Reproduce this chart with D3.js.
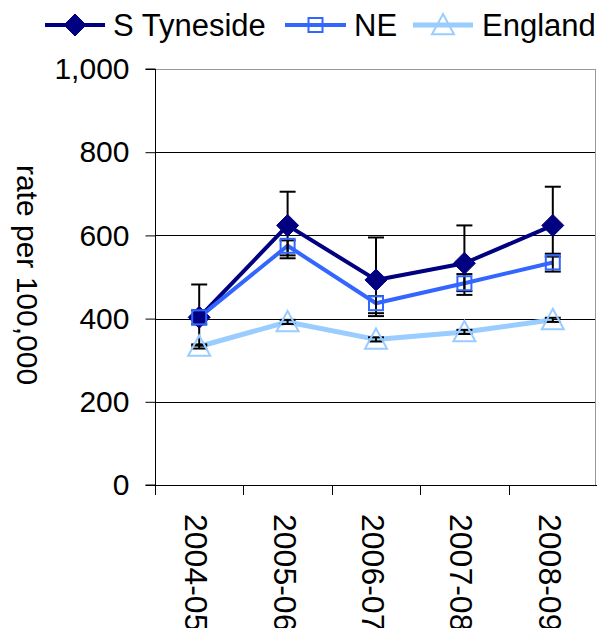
<!DOCTYPE html>
<html>
<head>
<meta charset="utf-8">
<script src="https://cdn.jsdelivr.net/npm/d3@7"></script>
<style>
  html, body { margin: 0; padding: 0; background: #fff; }
  svg { display: block; }
  text { font-family: "Liberation Sans", Arial, sans-serif; fill: #000; }
</style>
</head>
<body>
<svg id="chart" width="597" height="628"></svg>
<script>
// ---- data ----
const categories = ["2004-05", "2005-06", "2006-07", "2007-08", "2008-09"];
const seriesNames = ["S Tyneside", "NE", "England"];
const sTynesideValues = [403, 624, 493, 533, 624];
const sTynesideLower  = [335, 545, 406, 457, 556];
const sTynesideUpper  = [482, 705, 595, 624, 717];
const neValues = [403, 575, 437, 485, 535];
const neLower  = [386, 552, 413, 466, 513];
const neUpper  = [420, 588, 454, 507, 549];
const englandValues = [333, 392, 350, 368, 397];
const englandLower  = [328, 387, 345, 363, 392];
const englandUpper  = [338, 397, 355, 373, 402];
const yTicks = [0, 200, 400, 600, 800, 1000];
const yTitle = "rate per 100,000";

const series = [
  { name: seriesNames[0], values: sTynesideValues, lower: sTynesideLower, upper: sTynesideUpper, color: "#000080", marker: "diamond", width: 4 },
  { name: seriesNames[1], values: neValues, lower: neLower, upper: neUpper, color: "#3366FF", marker: "square", width: 4 },
  { name: seriesNames[2], values: englandValues, lower: englandLower, upper: englandUpper, color: "#99CCFF", marker: "triangle", width: 5 }
];

// ---- layout ----
const svg = d3.select("#chart");
const pLeft = 155, pRight = 597, pTop = 69, pBottom = 485;
const x = d3.scaleBand().domain(categories).range([pLeft, pRight]).padding(0);
const cx = c => x(c) + x.bandwidth() / 2;
const y = d3.scaleLinear().domain([0, 1000]).range([pBottom, pTop]);
const fmt = d3.format(",");

// gridlines
svg.append("g").selectAll("line").data(yTicks.filter(t => t > 0)).join("line")
  .attr("x1", pLeft).attr("x2", 596)
  .attr("y1", d => Math.round(y(d)) + 0.5).attr("y2", d => Math.round(y(d)) + 0.5)
  .attr("stroke", d => d === 1000 ? "#999" : "#000").attr("stroke-width", 1);
// right border
svg.append("line").attr("x1", 595.5).attr("x2", 595.5).attr("y1", y(1000)).attr("y2", pBottom)
  .attr("stroke", "#999").attr("stroke-width", 1);

// y axis
const yAxis = d3.axisLeft(y).tickValues(yTicks).tickSize(10).tickPadding(16).tickFormat(fmt);
const gy = svg.append("g").attr("transform", `translate(${pLeft + 0.5},0)`).call(yAxis);
gy.select(".domain").attr("stroke", "#000").attr("d", `M-10,${y(1000)}H0V${pBottom}H-10`);
gy.selectAll(".tick line").attr("stroke", "#000");
gy.selectAll(".tick text").attr("font-size", 30).attr("font-family", "Liberation Sans, Arial, sans-serif").attr("fill", "#000");

// x axis
const xAxis = d3.axisBottom(x).tickSize(0).tickFormat("");
const gx = svg.append("g").attr("transform", `translate(0,${pBottom + 0.5})`).call(xAxis);
gx.select(".domain").attr("stroke", "#000").attr("d", `M${pLeft},0H${pRight}`);
gx.selectAll(".tick").remove();
// boundary ticks
const bounds = categories.map(c => x(c)).concat([pRight - 0.5]);
svg.append("g").selectAll("line").data(bounds).join("line")
  .attr("x1", d => Math.round(d) + 0.5).attr("x2", d => Math.round(d) + 0.5)
  .attr("y1", pBottom).attr("y2", pBottom + 10).attr("stroke", "#000");
// x labels
svg.append("g").selectAll("text").data(categories).join("text")
  .attr("transform", d => `translate(${cx(d) - 3},514) rotate(90)`)
  .attr("text-anchor", "start").attr("dominant-baseline", "central")
  .attr("font-size", 32).text(d => d);

// y title
svg.append("text").attr("transform", "translate(27,275) rotate(90)")
  .attr("text-anchor", "middle").attr("dominant-baseline", "central")
  .attr("font-size", 30).text(yTitle);

// markers
function drawMarker(g, type, color, px, py, scale) {
  const s = scale || 1;
  if (type === "diamond") {
    const r = 11 * s;
    g.append("path").attr("d", `M${px},${py - r}L${px + r},${py}L${px},${py + r}L${px - r},${py}Z`)
      .attr("fill", color).attr("stroke", color).attr("stroke-width", 1);
  } else if (type === "square") {
    const r = 7 * s;
    g.append("rect").attr("x", px - r).attr("y", py - r).attr("width", 2 * r).attr("height", 2 * r)
      .attr("fill", "none").attr("stroke", color).attr("stroke-width", 2);
  } else {
    const r = 11 * s;
    g.append("path").attr("d", `M${px},${py - r}L${px + r},${py + r * 0.85}L${px - r},${py + r * 0.85}Z`)
      .attr("fill", "none").attr("stroke", color).attr("stroke-width", 2);
  }
}

const line = d3.line().x(d => cx(d.c)).y(d => y(d.v));
series.forEach(s => {
  const pts = categories.map((c, i) => ({ c, v: s.values[i] }));
  svg.append("path").datum(pts).attr("d", line)
    .attr("fill", "none").attr("stroke", s.color).attr("stroke-width", s.width).attr("stroke-linejoin", "round");
});

// error bars
series.forEach(s => {
  const g = svg.append("g").attr("stroke", "#000").attr("stroke-width", 2);
  categories.forEach((c, i) => {
    const px = cx(c);
    g.append("line").attr("x1", px).attr("x2", px).attr("y1", y(s.lower[i])).attr("y2", y(s.upper[i]));
    [s.lower[i], s.upper[i]].forEach(v => {
      g.append("line").attr("x1", px - 8).attr("x2", px + 8).attr("y1", y(v)).attr("y2", y(v));
    });
  });
});

series.forEach(s => {
  const g = svg.append("g");
  categories.forEach((c, i) => drawMarker(g, s.marker, s.color, cx(c), y(s.values[i])));
});

// legend
const legendItems = [
  { x1: 45, x2: 105, tx: 113 },
  { x1: 285, x2: 346, tx: 354 },
  { x1: 413, x2: 473, tx: 482 }
];
const ly = 25;
series.forEach((s, i) => {
  const li = legendItems[i];
  const g = svg.append("g");
  g.append("line").attr("x1", li.x1).attr("x2", li.x2).attr("y1", ly).attr("y2", ly)
    .attr("stroke", s.color).attr("stroke-width", s.width);
  drawMarker(g, s.marker, s.color, (li.x1 + li.x2) / 2, ly, 1);
  g.append("text").attr("x", li.tx).attr("y", ly).attr("dominant-baseline", "central")
    .attr("font-size", 31).text(s.name);
});
</script>
</body>
</html>
